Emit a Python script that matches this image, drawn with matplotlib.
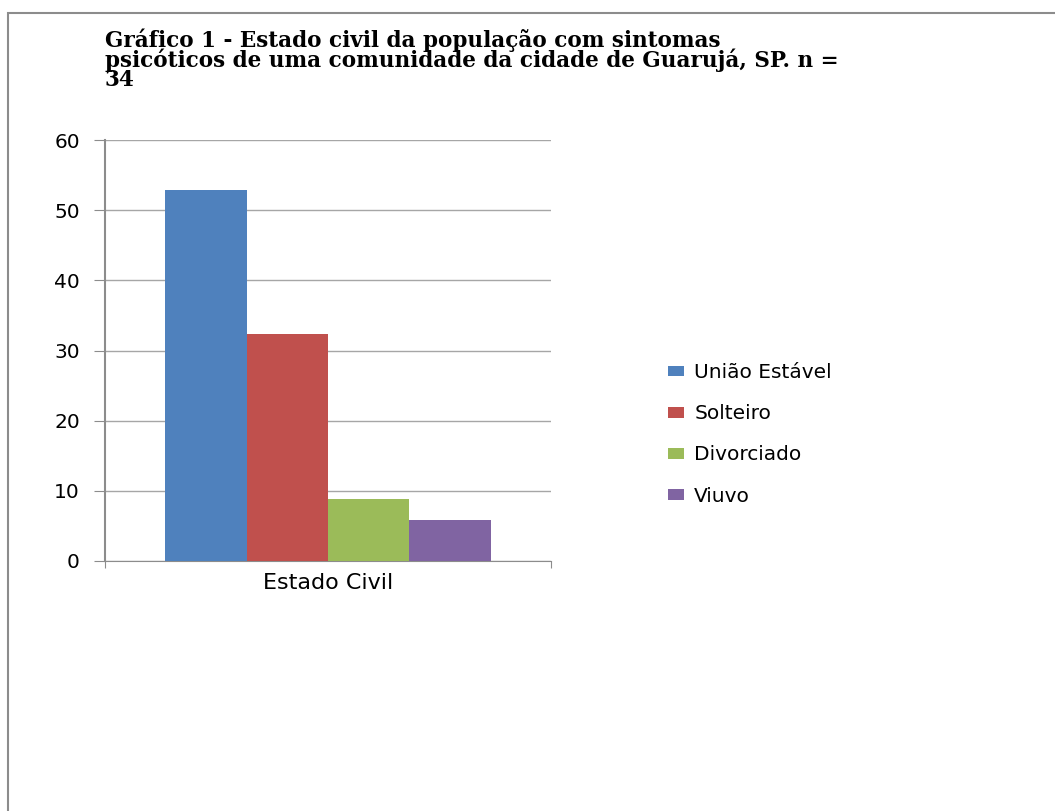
import numpy as np
import matplotlib
matplotlib.use("Agg")
import matplotlib.pyplot as plt
from matplotlib.patches import Rectangle

categories = ["Estado Civil"]
series = ["União Estável", "Solteiro", "Divorciado", "Viuvo"]
values = [52.9, 32.4, 8.8, 5.9]
colors = ["#4F81BD", "#C0504D", "#9BBB59", "#8064A2"]
yticks = [0, 10, 20, 30, 40, 50, 60]

fig = plt.figure(figsize=(10.55, 8.11), dpi=100)

# outer frame of the chart area
fig.patches.append(Rectangle((8 / 1055, -0.01), 1.1, 1 - 13 / 811 + 0.01,
                             transform=fig.transFigure, fill=False,
                             edgecolor="#8c8c8c", linewidth=1.5))

ax = fig.add_axes([105 / 1055, 1 - 561 / 811, 446 / 1055, 421 / 811])

group_w = 0.729
bar_w = group_w / len(series)
x0 = -group_w / 2 + bar_w / 2
for i, (name, v, c) in enumerate(zip(series, values, colors)):
    ax.bar(x0 + i * bar_w, v, width=bar_w, color=c, label=name, zorder=3)

ax.set_xlim(-0.5, 0.5)
ax.set_ylim(0, 60)
ax.set_yticks(yticks)
ax.set_yticklabels([str(t) for t in yticks], fontsize=14.5, family="DejaVu Sans")
ax.yaxis.grid(True, color="#a6a6a6", linewidth=1, zorder=0)
ax.tick_params(axis="y", length=8, color="#8c8c8c", pad=10)
ax.set_xticks([-0.5, 0.5])
ax.set_xticklabels(["", ""])
ax.tick_params(axis="x", length=5, color="#8c8c8c", direction="out")
ax.text(0, -1.7, categories[0], ha="center", va="top", fontsize=16,
        family="DejaVu Sans", fontstretch="normal", transform=ax.transData)

for s in ["top", "right"]:
    ax.spines[s].set_visible(False)
ax.spines["left"].set_color("#8c8c8c")
ax.spines["bottom"].set_color("#8c8c8c")
ax.spines["left"].set_linewidth(1.5)

fig.text(105 / 1055, 1 - 28 / 811,
         "Gráfico 1 - Estado civil da população com sintomas\n"
         "psicóticos de uma comunidade da cidade de Guarujá, SP. n =\n34",
         ha="left", va="top", fontsize=15.5, fontweight="bold",
         family="DejaVu Serif", linespacing=0.82)

fig.legend(loc="upper left", bbox_to_anchor=(650 / 1055, 1 - 345 / 811),
           frameon=False, prop={"family": "DejaVu Sans", "size": 14.5},
           handlelength=0.8, handleheight=0.45, labelspacing=1.1,
           handletextpad=0.5)

fig.savefig("out.png", dpi=100)
